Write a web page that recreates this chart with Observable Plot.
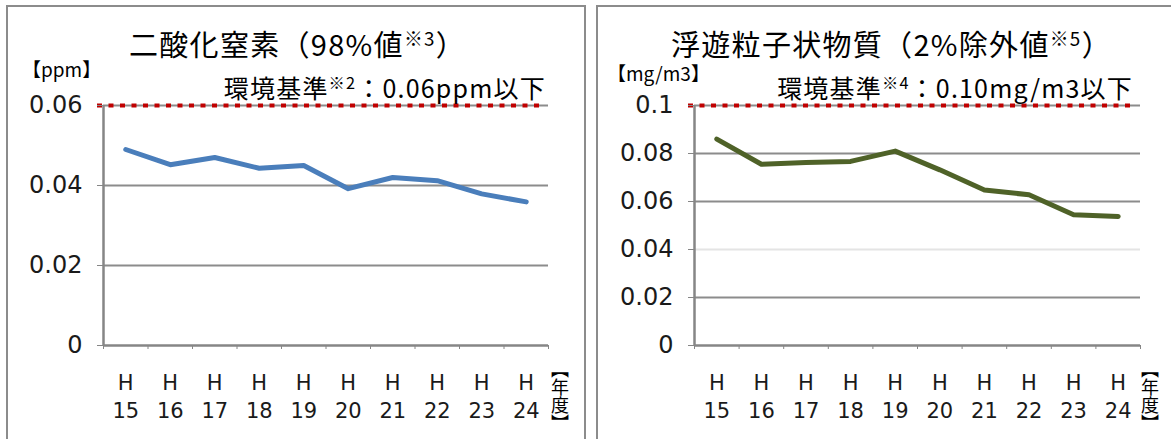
<!DOCTYPE html>
<html>
<head>
<meta charset="utf-8">
<script src="https://cdn.jsdelivr.net/npm/d3@7"></script>
<script src="https://cdn.jsdelivr.net/npm/@observablehq/plot@0.6"></script>
<style>
  html, body { margin: 0; padding: 0; background: #fff; }
  #root { position: relative; width: 1171px; height: 439px; overflow: hidden; font-family: "Noto Sans CJK JP", "Noto Sans", sans-serif; color: #000; }
  .panel { position: absolute; top: 5px; height: 460px; border: 2px solid #8c8c8c; box-sizing: border-box; }
  .plot { position: absolute; top: 0; }
  .title { position: absolute; font-size: 29px; white-space: nowrap; line-height: 1; letter-spacing: 1.3px; }
  .unit { position: absolute; font-size: 19px; white-space: nowrap; line-height: 1; }
  .std { position: absolute; font-size: 25px; white-space: nowrap; line-height: 1; letter-spacing: 1.2px; }
  sup { font-size: 0.65em; vertical-align: 0.55em; line-height: 0; }
  .nendo { position: absolute; top: 360px; font-size: 18px; writing-mode: vertical-rl; line-height: 1; white-space: nowrap; }
</style>
</head>
<body>
<div id="root">
  <div class="panel" style="left:6px; width:580px;"></div>
  <div class="panel" style="left:596px; width:590px;"></div>
  <div id="left" class="plot" style="left:0px;"></div>
  <div id="right" class="plot" style="left:590px;"></div>

  <div class="title" style="left:129px; top:29px;">二酸化窒素（98%値<sup>※3</sup>）</div>
  <div class="unit" style="left:22px; top:59px;">【ppm】</div>
  <div class="std" style="right:625px; top:75px;">環境基準<sup>※2</sup>：0.06ppm以下</div>
  <div class="nendo" style="left:551px;">【年度】</div>

  <div class="title" style="left:671px; top:29px;">浮遊粒子状物質（2%除外値<sup>※5</sup>）</div>
  <div class="unit" style="left:607px; top:63px;">【mg/m3】</div>
  <div class="std" style="right:38px; top:75px;">環境基準<sup>※4</sup>：0.10mg/m3以下</div>
  <div class="nendo" style="left:1141px;">【年度】</div>
</div>
<script>
// ---- data ----
const years = ["15", "16", "17", "18", "19", "20", "21", "22", "23", "24"];
const no2Values = [0.049, 0.0452, 0.047, 0.0443, 0.045, 0.0392, 0.042, 0.0412, 0.0379, 0.0359];
const spmValues = [0.086, 0.0755, 0.0762, 0.0767, 0.081, 0.0732, 0.0648, 0.0628, 0.0545, 0.0538];
const no2Ticks = [0, 0.02, 0.04, 0.06];
const spmTicks = [0, 0.02, 0.04, 0.06, 0.08, 0.1];
const no2Standard = 0.06;
const spmStandard = 0.1;

const gridColor = "#8c8c8c";
const axisColor = "#868686";

function makeChart({values, ticks, standard, color, width, marginLeft, marginRight, fmt, gridLight}) {
  const data = values.map((v, i) => ({x: i + 0.5, y: v}));
  const centers = years.map((_, i) => i + 0.5);
  const bounds = d3.range(years.length + 1);
  const grid = ticks.filter(t => t > 0);
  return Plot.plot({
    width, height: 439,
    marginLeft, marginRight, marginTop: 105, marginBottom: 94,
    style: {background: "transparent", fontFamily: "DejaVu Sans, sans-serif"},
    x: {type: "linear", domain: [0, years.length], axis: null},
    y: {type: "linear", domain: [0, standard], axis: null},
    marks: [
      Plot.ruleY(grid, {y: d => d, stroke: d => (gridLight && gridLight.includes(d)) ? "#e4e4e4" : gridColor, strokeWidth: 2}),
      Plot.ruleY([standard], {stroke: "#c00000", strokeWidth: 4, strokeDasharray: "5,6.5", insetLeft: -6, insetRight: 4}),
      Plot.ruleX([0], {stroke: axisColor, strokeWidth: 2.5}),
      Plot.ruleY([0], {stroke: axisColor, strokeWidth: 2.5}),
      Plot.axisY(ticks, {label: null, tickSize: 6, tickPadding: 15, fontSize: 24, stroke: axisColor, fill: "#1a1a1a", tickFormat: fmt}),
      Plot.axisX(bounds, {label: null, tickSize: 4, stroke: axisColor, tickFormat: () => ""}),
      Plot.axisX(centers, {label: null, tickSize: 0, tickPadding: 24, fontSize: 21, fill: "#1a1a1a", lineHeight: 1.35,
        tickFormat: c => "H\n" + years[Math.floor(c)]}),
      Plot.line(data, {x: "x", y: "y", stroke: color, strokeWidth: 5, strokeLinejoin: "round"})
    ]
  });
}

document.getElementById("left").appendChild(makeChart({
  values: no2Values, ticks: no2Ticks, standard: no2Standard, color: "#4a7ebb",
  width: 590, marginLeft: 103, marginRight: 42,
  fmt: d => d === 0 ? "0" : d.toFixed(2)
}));
document.getElementById("right").appendChild(makeChart({
  values: spmValues, ticks: spmTicks, standard: spmStandard, color: "#4f6228",
  width: 581, marginLeft: 104, marginRight: 31,
  fmt: d => d === 0 ? "0" : (d === 0.1 ? "0.1" : d.toFixed(2)),
  gridLight: [0.04]
}));
</script>
</body>
</html>
